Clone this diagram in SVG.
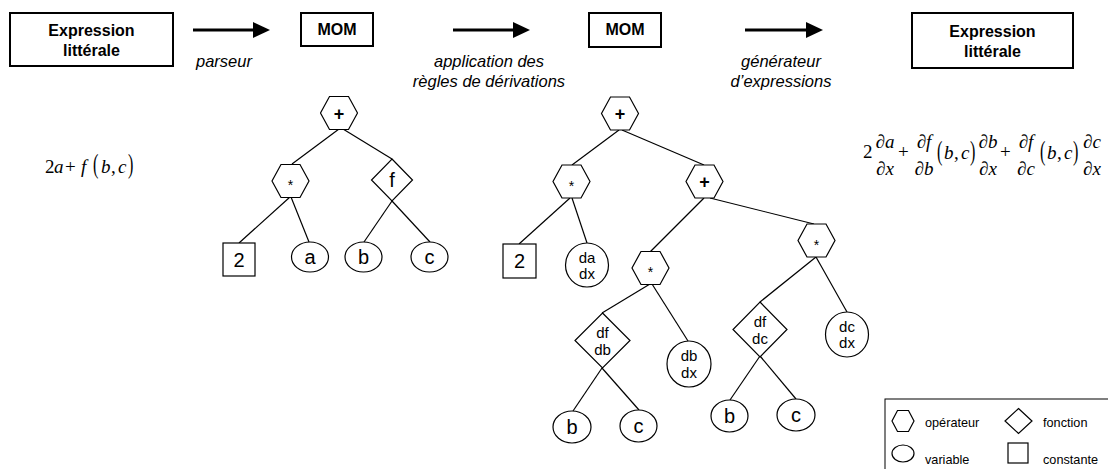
<svg xmlns="http://www.w3.org/2000/svg" width="1108" height="469" viewBox="0 0 1108 469">
  <style>
    .box { fill: none; stroke: #000; stroke-width: 2; }
    .node { fill: #fff; stroke: #000; stroke-width: 1.2; }
    .edge { stroke: #000; stroke-width: 1.2; fill: none; }
    .arrow-line { stroke: #000; stroke-width: 3; }
    .head { fill: #000; }
    .title { font-family: "Liberation Sans", Arial, sans-serif; font-weight: bold; font-size: 16px; text-anchor: middle; }
    .step { font-family: "Liberation Sans", Arial, sans-serif; font-style: italic; font-size: 16.5px; text-anchor: middle; }
    .lbl { font-family: "Liberation Sans", Arial, sans-serif; font-size: 20px; text-anchor: middle; }
    .op { font-family: "Liberation Sans", Arial, sans-serif; font-size: 18px; font-weight: bold; text-anchor: middle; }
    .star { font-family: "Liberation Sans", Arial, sans-serif; font-size: 14px; text-anchor: middle; }
    .small { font-family: "Liberation Sans", Arial, sans-serif; font-size: 15px; text-anchor: middle; }
    .legend { font-family: "Liberation Sans", Arial, sans-serif; font-size: 12.7px; }
    .math { font-family: "Liberation Serif", "Times New Roman", serif; font-size: 19px; }
    .mid { text-anchor: middle; }
    .it { font-style: italic; }
  </style>
  <defs>
    <polygon id="hex" points="-9.5,-16.5 9.5,-16.5 18.5,0 9.5,16.5 -9.5,16.5 -18.5,0"/>
  </defs>

  <!-- pipeline header -->
  <g id="expr-in">
    <rect class="box" x="10" y="13" width="163" height="53"/>
    <text class="title" x="91.5" y="36">Expression</text>
    <text class="title" x="91.5" y="56">littérale</text>
  </g>
  <g id="mom-1">
    <rect class="box" x="301" y="13" width="72" height="33"/>
    <text class="title" x="337" y="35">MOM</text>
  </g>
  <g id="mom-2">
    <rect class="box" x="589" y="13" width="72" height="34"/>
    <text class="title" x="625" y="35">MOM</text>
  </g>
  <g id="expr-out">
    <rect class="box" x="912" y="13" width="161" height="55"/>
    <text class="title" x="992.5" y="37">Expression</text>
    <text class="title" x="992.5" y="57">littérale</text>
  </g>

  <g id="steps">
    <line class="arrow-line" x1="193" y1="30" x2="255" y2="30"/>
    <polygon class="head" points="253,22 270,30 253,38"/>
    <text class="step" x="224" y="67">parseur</text>

    <line class="arrow-line" x1="453" y1="30" x2="515" y2="30"/>
    <polygon class="head" points="513,22 530,30 513,38"/>
    <text class="step" x="489" y="67">application des</text>
    <text class="step" x="489" y="87">règles de dérivations</text>

    <line class="arrow-line" x1="745" y1="30" x2="808" y2="30"/>
    <polygon class="head" points="806,22 823,30 806,38"/>
    <text class="step" x="781" y="67">générateur</text>
    <text class="step" x="781" y="87">d’expressions</text>
  </g>

  <!-- source expression: 2a + f(b,c) -->
  <g id="formula-in" class="math">
    <text x="45" y="173">2</text>
    <text class="it" x="54" y="173">a</text>
    <text x="65" y="173">+</text>
    <text class="it" x="81" y="173">f</text>
    <text transform="translate(93,173) scale(0.85,1.42)">(</text>
    <text class="it" x="101" y="173">b</text>
    <text x="111" y="173">,</text>
    <text class="it" x="118" y="173">c</text>
    <text transform="translate(128,173) scale(0.85,1.42)">)</text>
  </g>

  <!-- derived expression -->
  <g id="formula-out" class="math">
    <text x="863" y="158">2</text>
    <text class="mid" x="885" y="148">∂<tspan class="it">a</tspan></text>
    <text class="mid" x="885" y="175">∂<tspan class="it">x</tspan></text>
    <text x="898" y="158">+</text>
    <text class="mid" x="924" y="148">∂<tspan class="it">f</tspan></text>
    <text class="mid" x="924" y="175">∂<tspan class="it">b</tspan></text>
    <text transform="translate(937,160) scale(0.85,1.42)">(</text>
    <text class="it" x="944" y="159">b</text>
    <text x="954" y="159">,</text>
    <text class="it" x="961" y="159">c</text>
    <text transform="translate(970,160) scale(0.85,1.42)">)</text>
    <text class="mid" x="988" y="148">∂<tspan class="it">b</tspan></text>
    <text class="mid" x="988" y="175">∂<tspan class="it">x</tspan></text>
    <text x="1000" y="158">+</text>
    <text class="mid" x="1026" y="148">∂<tspan class="it">f</tspan></text>
    <text class="mid" x="1026" y="175">∂<tspan class="it">c</tspan></text>
    <text transform="translate(1040,160) scale(0.85,1.42)">(</text>
    <text class="it" x="1047" y="159">b</text>
    <text x="1057" y="159">,</text>
    <text class="it" x="1064" y="159">c</text>
    <text transform="translate(1073,160) scale(0.85,1.42)">)</text>
    <text class="mid" x="1092" y="148">∂<tspan class="it">c</tspan></text>
    <text class="mid" x="1092" y="175">∂<tspan class="it">x</tspan></text>
  </g>

  <!-- tree edges -->
  <g id="connectors">
    <!-- parsed tree -->
    <line class="edge" x1="339" y1="129" x2="292" y2="164"/>
    <line class="edge" x1="343" y1="129" x2="392" y2="159"/>
    <line class="edge" x1="290" y1="197" x2="239" y2="243"/>
    <line class="edge" x1="291" y1="197" x2="309" y2="242"/>
    <line class="edge" x1="392" y1="201" x2="364" y2="242"/>
    <line class="edge" x1="392" y1="201" x2="430" y2="242"/>
    <!-- derived tree -->
    <line class="edge" x1="619" y1="130" x2="572" y2="165"/>
    <line class="edge" x1="622" y1="130" x2="704" y2="165"/>
    <line class="edge" x1="570" y1="198" x2="519" y2="244"/>
    <line class="edge" x1="572" y1="198" x2="587" y2="243"/>
    <line class="edge" x1="704" y1="198" x2="650" y2="252"/>
    <line class="edge" x1="710" y1="198" x2="814" y2="224"/>
    <line class="edge" x1="816" y1="257" x2="760" y2="302"/>
    <line class="edge" x1="816" y1="257" x2="847" y2="312"/>
    <line class="edge" x1="650" y1="284" x2="602" y2="313"/>
    <line class="edge" x1="652" y1="284" x2="688" y2="341"/>
    <line class="edge" x1="602" y1="368" x2="573" y2="411"/>
    <line class="edge" x1="602" y1="368" x2="639" y2="410"/>
    <line class="edge" x1="760" y1="356" x2="730" y2="400"/>
    <line class="edge" x1="760" y1="356" x2="796" y2="399"/>
  </g>

  <!-- parsed tree nodes -->
  <g id="l-plus"><use href="#hex" x="339" y="113" class="node"/><text class="op" x="339" y="119.5">+</text></g>
  <g id="l-mul"><use href="#hex" x="290.5" y="181" class="node"/><text class="star" x="290.5" y="190">*</text></g>
  <g id="l-f"><polygon class="node" points="392,159 412.5,180 392,201 371.5,180"/><text class="lbl" x="392" y="187">f</text></g>
  <g id="l-2"><rect class="node" x="223" y="243" width="32" height="33"/><text class="lbl" x="239" y="267">2</text></g>
  <g id="l-a"><ellipse class="node" cx="310" cy="257" rx="18.5" ry="15"/><text class="lbl" x="310" y="264">a</text></g>
  <g id="l-b"><ellipse class="node" cx="363.5" cy="257" rx="18.5" ry="15"/><text class="lbl" x="363.5" y="264">b</text></g>
  <g id="l-c"><ellipse class="node" cx="429.5" cy="257" rx="18.5" ry="15"/><text class="lbl" x="429.5" y="264">c</text></g>

  <!-- derived tree nodes -->
  <g id="r-plus"><use href="#hex" x="620" y="113.5" class="node"/><text class="op" x="620" y="120">+</text></g>
  <g id="r-mul-a"><use href="#hex" x="571.5" y="181.5" class="node"/><text class="star" x="571.5" y="190.5">*</text></g>
  <g id="r-plus-b"><use href="#hex" x="704.5" y="181.5" class="node"/><text class="op" x="704.5" y="188">+</text></g>
  <g id="r-2"><rect class="node" x="503" y="244" width="33" height="34"/><text class="lbl" x="519.5" y="268">2</text></g>
  <g id="r-dadx"><ellipse class="node" cx="587" cy="265" rx="21.5" ry="22"/><text class="small" x="587" y="263">da</text><text class="small" x="587" y="279">dx</text></g>
  <g id="r-mul-b"><use href="#hex" x="650.5" y="268" class="node"/><text class="star" x="650.5" y="277">*</text></g>
  <g id="r-mul-c"><use href="#hex" x="816.5" y="240.5" class="node"/><text class="star" x="816.5" y="249.5">*</text></g>
  <g id="r-dfdb"><polygon class="node" points="602.5,313 630,340.5 602.5,368 575,340.5"/><text class="small" x="602.5" y="338">df</text><text class="small" x="602.5" y="355">db</text></g>
  <g id="r-dbdx"><ellipse class="node" cx="689" cy="364" rx="22" ry="23"/><text class="small" x="689" y="361">db</text><text class="small" x="689" y="378">dx</text></g>
  <g id="r-dfdc"><polygon class="node" points="760,302 787,329.5 760,357 733,329.5"/><text class="small" x="760" y="327">df</text><text class="small" x="760" y="344">dc</text></g>
  <g id="r-dcdx"><ellipse class="node" cx="847" cy="334.5" rx="21.5" ry="22.5"/><text class="small" x="847" y="332">dc</text><text class="small" x="847" y="348">dx</text></g>
  <g id="r-b1"><ellipse class="node" cx="572" cy="427" rx="19" ry="16"/><text class="lbl" x="572" y="434">b</text></g>
  <g id="r-c1"><ellipse class="node" cx="638.5" cy="426" rx="18.5" ry="16"/><text class="lbl" x="638.5" y="433">c</text></g>
  <g id="r-b2"><ellipse class="node" cx="729.5" cy="416" rx="18.5" ry="16"/><text class="lbl" x="729.5" y="423">b</text></g>
  <g id="r-c2"><ellipse class="node" cx="796" cy="415" rx="19" ry="16"/><text class="lbl" x="796" y="422">c</text></g>

  <!-- legend -->
  <g id="legend">
    <rect x="885" y="399" width="240" height="90" fill="#fff" stroke="#000" stroke-width="1"/>
    <polygon class="node" points="897.5,410.5 908.5,410.5 914,421 908.5,431.5 897.5,431.5 892,421"/>
    <text class="legend" x="925" y="427">opérateur</text>
    <polygon class="node" points="1018.5,408.5 1032,421 1018.5,433.5 1005,421"/>
    <text class="legend" x="1043" y="427">fonction</text>
    <ellipse class="node" cx="903" cy="453.5" rx="11" ry="8.5"/>
    <text class="legend" x="925" y="464">variable</text>
    <rect class="node" x="1008" y="443" width="20" height="20"/>
    <text class="legend" x="1043" y="464">constante</text>
  </g>
</svg>
